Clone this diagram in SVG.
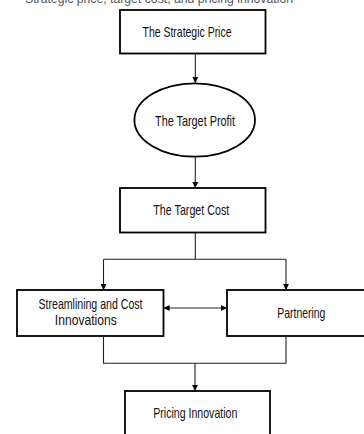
<svg xmlns="http://www.w3.org/2000/svg" width="364" height="434" viewBox="0 0 364 434">
<defs>
<style>
.node{fill:#fff;stroke:#000;stroke-width:1.8}
.lbl{font-family:"Liberation Sans",Arial,sans-serif;font-size:14.5px;fill:#111;text-anchor:middle}
.conn{fill:none;stroke:#222;stroke-width:1.1}
</style>
<marker id="ah" viewBox="0 0 8 8" refX="7.5" refY="4" markerWidth="6" markerHeight="6" markerUnits="userSpaceOnUse" orient="auto-start-reverse">
<path d="M0,0 L8,4 L0,8 z" fill="#000"/>
</marker>
</defs>
<rect width="364" height="434" fill="#fff"/>
<text x="25" y="2.5" class="lbl" style="text-anchor:start;fill:#555;font-size:13px" textLength="268" lengthAdjust="spacingAndGlyphs">Strategic price, target cost, and pricing innovation</text>
<g id="strategic-price">
<rect class="node" x="120" y="10" width="145.5" height="43.5"/>
<text class="lbl" x="187" y="37" textLength="89" lengthAdjust="spacingAndGlyphs">The Strategic Price</text>
</g>
<g id="target-profit">
<ellipse class="node" cx="194.7" cy="120" rx="60.3" ry="36.7"/>
<text class="lbl" x="195" y="125.5" textLength="80" lengthAdjust="spacingAndGlyphs">The Target Profit</text>
</g>
<g id="target-cost">
<rect class="node" x="120" y="188" width="145.5" height="44.5"/>
<text class="lbl" x="191.3" y="215" textLength="76" lengthAdjust="spacingAndGlyphs">The Target Cost</text>
</g>
<g id="streamlining">
<rect class="node" x="17" y="290" width="146.5" height="46"/>
<text class="lbl" x="90.5" y="308.5" textLength="104" lengthAdjust="spacingAndGlyphs">Streamlining and Cost</text>
<text class="lbl" x="85.8" y="324.5" textLength="62" lengthAdjust="spacingAndGlyphs">Innovations</text>
</g>
<g id="partnering">
<rect class="node" x="227" y="290" width="140" height="46"/>
<text class="lbl" x="301.3" y="318" textLength="48" lengthAdjust="spacingAndGlyphs">Partnering</text>
</g>
<g id="pricing-innovation">
<rect class="node" x="125" y="391" width="145" height="50"/>
<text class="lbl" x="195.3" y="417.5" textLength="84" lengthAdjust="spacingAndGlyphs">Pricing Innovation</text>
</g>
<g id="connectors">
<path class="conn" d="M195.3,53.5 V82.5" marker-end="url(#ah)"/>
<path class="conn" d="M195.3,156.7 V187.5" marker-end="url(#ah)"/>
<path class="conn" d="M195.3,232.5 V259.3 M103.5,259.3 H286"/>
<path class="conn" d="M103.5,259.3 V289.5" marker-end="url(#ah)"/>
<path class="conn" d="M286,259.3 V289.5" marker-end="url(#ah)"/>
<path class="conn" d="M164,308 H226.5" marker-start="url(#ah)" marker-end="url(#ah)"/>
<path class="conn" d="M103.5,336 V363.3 H286 V336"/>
<path class="conn" d="M195,363.3 V390.5" marker-end="url(#ah)"/>
</g>
</svg>
